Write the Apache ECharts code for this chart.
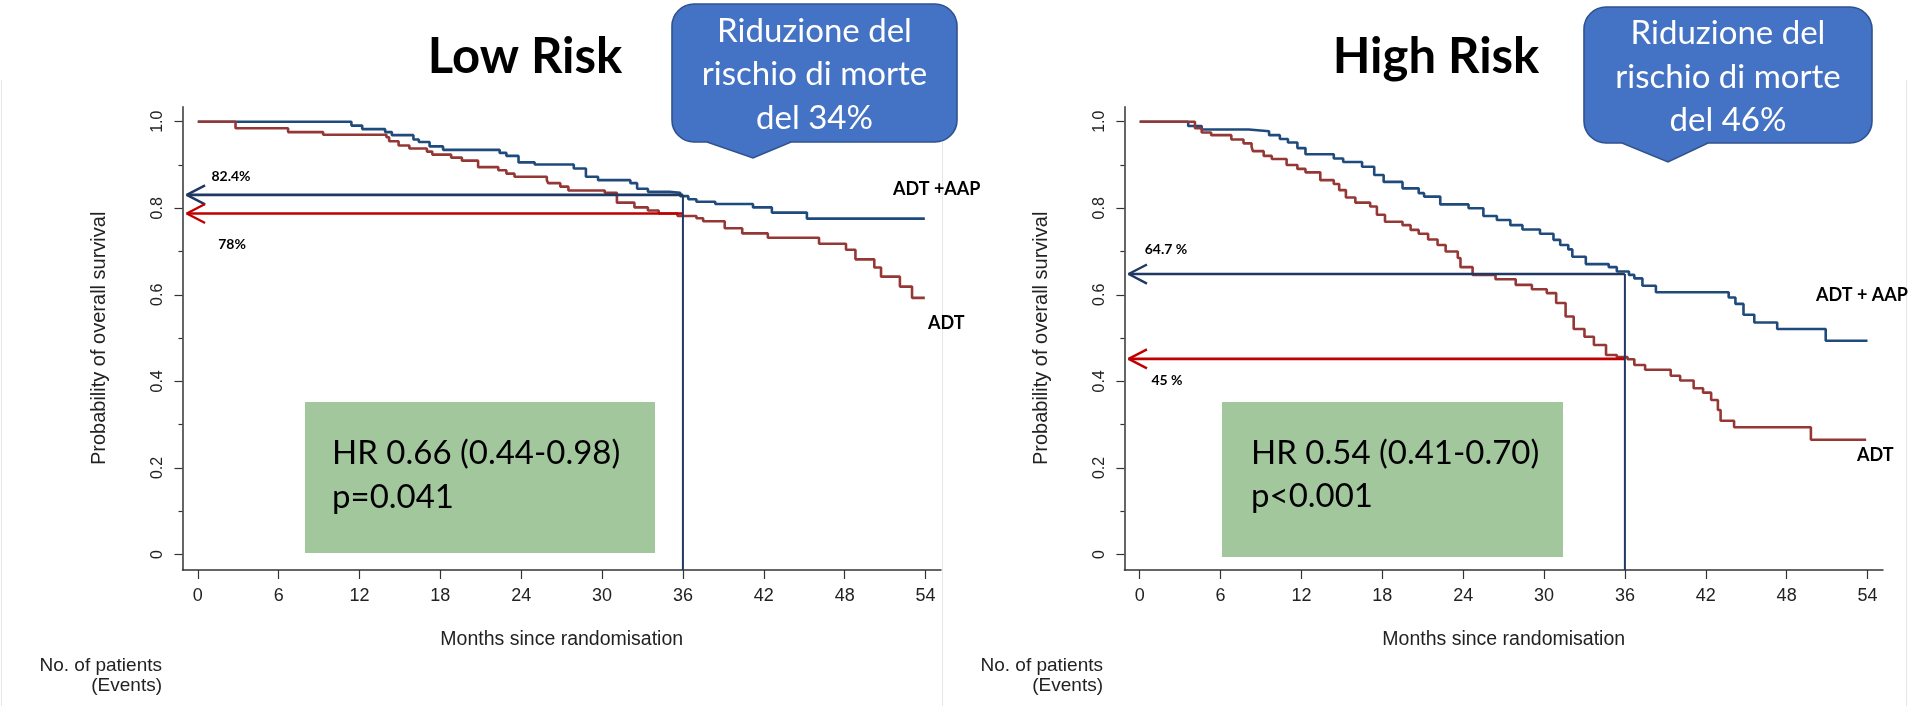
<!DOCTYPE html>
<html><head><meta charset="utf-8">
<script src="https://cdn.jsdelivr.net/npm/echarts@6/dist/echarts.min.js"></script>
<style>html,body{margin:0;padding:0;background:#fff}#c{width:1908px;height:706px}</style>
</head><body><div id="c"></div>
<script>
// ---------- data ----------
const monthTicks = [0, 6, 12, 18, 24, 30, 36, 42, 48, 54];
const survTicks = [0, 0.2, 0.4, 0.6, 0.8, 1.0];
const survMinorTicks = [0.1, 0.3, 0.5, 0.7, 0.9];

// [month of step, survival after step]
const lowAAP = [[0,1.0],[11.4,0.991],[12.2,0.983],[13.9,0.976],[14.4,0.969],[16.0,0.959],[16.4,0.953],[17.2,0.943],[18.2,0.935],[22.4,0.928],[22.9,0.921],[23.8,0.906],[25.0,0.901],[27.9,0.892],[28.8,0.873],[29.7,0.865],[32.1,0.858],[32.6,0.845],[33.4,0.838],[35.0,0.836],[35.8,0.828],[36.4,0.821],[37.0,0.815],[38.4,0.810],[41.2,0.802],[42.6,0.790],[45.2,0.776],[53.95,0.776]];
const lowADT = [[0,1.0],[2.8,0.985],[6.7,0.976],[9.3,0.970],[14.0,0.964],[14.2,0.955],[14.9,0.945],[15.7,0.938],[17.0,0.931],[17.4,0.924],[18.8,0.917],[19.6,0.910],[20.8,0.895],[22.3,0.888],[22.9,0.880],[23.5,0.873],[25.9,0.865],[26.0,0.858],[26.9,0.850],[27.5,0.841],[30.2,0.836],[31.1,0.813],[32.4,0.802],[33.4,0.795],[34.2,0.788],[35.6,0.782],[37.0,0.777],[37.5,0.770],[39.1,0.754],[40.4,0.742],[42.3,0.732],[46.1,0.718],[48.1,0.704],[48.8,0.682],[50.2,0.663],[50.7,0.642],[52.1,0.619],[53.0,0.593],[53.95,0.593]];
const highAAP = [[0,1.0],[3.6,0.990],[4.6,0.982],[8.1,0.978],[9.6,0.969],[10.4,0.960],[11.0,0.952],[11.7,0.939],[12.3,0.925],[14.4,0.915],[15.1,0.907],[16.5,0.896],[17.4,0.877],[18.1,0.861],[19.5,0.846],[20.7,0.835],[21.1,0.827],[22.3,0.809],[24.4,0.800],[25.5,0.782],[26.5,0.773],[27.5,0.761],[28.4,0.751],[29.7,0.741],[30.7,0.727],[31.2,0.715],[31.8,0.705],[32.1,0.688],[33.1,0.671],[34.8,0.664],[35.4,0.654],[36.3,0.646],[36.7,0.638],[37.3,0.621],[38.3,0.606],[43.7,0.594],[44.2,0.579],[44.8,0.554],[45.6,0.536],[47.3,0.521],[50.9,0.494],[54.0,0.494]];
const highADT = [[0,1.0],[4.1,0.985],[4.6,0.975],[5.3,0.969],[6.8,0.959],[7.7,0.950],[8.3,0.942],[8.4,0.932],[9.2,0.921],[9.8,0.914],[10.9,0.900],[11.7,0.891],[12.3,0.883],[13.4,0.865],[14.4,0.856],[14.8,0.842],[15.3,0.825],[16.0,0.813],[17.1,0.804],[17.6,0.785],[18.2,0.769],[19.5,0.761],[20.1,0.750],[20.7,0.741],[21.4,0.728],[22.1,0.715],[22.7,0.700],[23.6,0.685],[23.8,0.664],[24.7,0.646],[26.4,0.636],[27.9,0.623],[29.1,0.613],[30.2,0.604],[30.9,0.581],[31.6,0.550],[32.2,0.521],[33.0,0.503],[33.7,0.484],[34.6,0.461],[35.4,0.456],[36.2,0.451],[36.7,0.438],[37.5,0.427],[39.4,0.413],[40.1,0.402],[41.1,0.384],[41.8,0.374],[42.4,0.357],[42.9,0.334],[43.1,0.309],[44.1,0.294],[49.8,0.265],[53.9,0.265]];

const landmarkMonth = 36;
const arrowTipMonth = -0.82;
const lowArrowValues = [0.831, 0.788];   // ADT+AAP, ADT
const highArrowValues = [0.648, 0.452];
const arrowLabelsLow = ['82.4%', '78%'];
const arrowLabelsHigh = ['64.7 %', '45 %'];
const titles = ['Low Risk', 'High Risk'];
const bubbleLow = ['Riduzione del', 'rischio di morte', 'del 34%'];
const bubbleHigh = ['Riduzione del', 'rischio di morte', 'del 46%'];
const hrLow = ['HR 0.66 (0.44-0.98)', 'p=0.041'];
const hrHigh = ['HR 0.54 (0.41-0.70)', 'p<0.001'];
const groupLabels = ['ADT +AAP', 'ADT', 'ADT + AAP', 'ADT'];
const xName = 'Months since randomisation';
const yName = 'Probability of overall survival';
const riskLabel = ['No. of patients', '(Events)'];

// ---------- styles ----------
const AX = "'Liberation Sans', Arial, sans-serif";
const CAL = "Lato, 'Open Sans', sans-serif";
const BLUE = '#1F4A7C', RED = '#953735', NAVY = '#203864', ARED = '#C00000';
const Y_MIN = -0.0358, Y_MAX = 1.0347, X_MIN = -1.135, X_MAX = 55.15;

function xAx(gi) {
  return {
    type: 'value', gridIndex: gi, min: X_MIN, max: X_MAX, position: 'bottom',
    axisLine: { show: true, onZero: false, lineStyle: { color: '#333', width: 1.5 } },
    axisTick: { show: true, length: 9, customValues: monthTicks, lineStyle: { color: '#333', width: 1.2 } },
    axisLabel: { show: true, customValues: monthTicks, fontSize: 18, fontFamily: AX, color: '#222', margin: 17 },
    splitLine: { show: false },
    name: xName, nameLocation: 'middle', nameGap: 60,
    nameTextStyle: { fontSize: 19.5, fontFamily: AX, color: '#222' }
  };
}
function yAx(gi) {
  return {
    type: 'value', gridIndex: gi, min: Y_MIN, max: Y_MAX, position: 'left',
    axisLine: { show: true, onZero: false, lineStyle: { color: '#333', width: 1.5 } },
    axisTick: { show: true, length: 8, customValues: survTicks, lineStyle: { color: '#333', width: 1.2 } },
    axisLabel: { show: true, customValues: survTicks, rotate: 90, fontSize: 16, fontFamily: AX, color: '#222', margin: 17,
      formatter: v => (Math.abs(v) < 1e-9 ? '0' : v.toFixed(1)) },
    splitLine: { show: false },
    name: yName, nameLocation: 'middle', nameGap: 73,
    nameTextStyle: { fontSize: 20, fontFamily: AX, color: '#222' }
  };
}
function yMinor(gi) {
  return {
    type: 'value', gridIndex: gi, min: Y_MIN, max: Y_MAX, position: 'left', offset: 0,
    axisLine: { show: false, onZero: false },
    axisTick: { show: true, length: 4, customValues: survMinorTicks, lineStyle: { color: '#333', width: 1.2 } },
    axisLabel: { show: false }, splitLine: { show: false }
  };
}
function km(data, color, gi) {
  return { type: 'line', xAxisIndex: gi, yAxisIndex: gi * 2, data: data, step: 'end',
    showSymbol: false, symbol: 'none', lineStyle: { color: color, width: 2.6 }, itemStyle: { color: color },
    silent: true, z: 3 };
}
function seg(pts, color, width, gi, z) {
  return { type: 'line', xAxisIndex: gi, yAxisIndex: gi * 2, data: pts, showSymbol: false, symbol: 'none',
    lineStyle: { color: color, width: width }, itemStyle: { color: color }, silent: true, z: z || 4 };
}
function arrow(gi, v, color) {
  const dx = 1.36, dy = 0.022;
  return [
    seg([[landmarkMonth, v], [arrowTipMonth, v]], color, 2.6, gi, 5),
    seg([[arrowTipMonth + dx, v + dy], [arrowTipMonth, v], [arrowTipMonth + dx, v - dy]], color, 2.4, gi, 5)
  ];
}

const series = [
  km(lowAAP, BLUE, 0), km(lowADT, RED, 0),
  km(highAAP, BLUE, 1), km(highADT, RED, 1),
  ...arrow(0, lowArrowValues[0], NAVY), ...arrow(0, lowArrowValues[1], ARED),
  ...arrow(1, highArrowValues[0], NAVY), ...arrow(1, highArrowValues[1], ARED),
  seg([[landmarkMonth, lowArrowValues[0]], [landmarkMonth, Y_MIN]], NAVY, 2, 0, 5),
  seg([[landmarkMonth, highArrowValues[0]], [landmarkMonth, Y_MIN]], NAVY, 2, 1, 5)
];

function txt(text, x, y, font, fill, align, z) {
  return { type: 'text', x: x, y: y, z: z || 10, silent: true,
    style: { text: text, font: font, fill: fill || '#000', align: align || 'center', verticalAlign: 'middle' } };
}
function bubble(x0, y0, x1, y1, bx0, tipX, bx1, tipY, lines, cy) {
  const fill = '#4472C4', stroke = '#2F528F';
  const els = [
    { type: 'rect', z: 20, silent: true, shape: { x: x0, y: y0, width: x1 - x0, height: y1 - y0, r: 22 },
      style: { fill: fill, stroke: stroke, lineWidth: 1.6 } },
    { type: 'polygon', z: 21, silent: true,
      shape: { points: [[bx0, y1], [bx0, y1 - 4], [bx1, y1 - 4], [bx1, y1], [tipX, tipY]] },
      style: { fill: fill } },
    { type: 'polyline', z: 22, silent: true, shape: { points: [[bx0 - 1, y1], [tipX, tipY], [bx1 + 1, y1]] },
      style: { stroke: stroke, lineWidth: 1.6, fill: null } }
  ];
  const cx = (x0 + x1) / 2;
  lines.forEach((l, i) => els.push(txt(l, cx, cy[i], '33px ' + CAL, '#fff', 'center', 23)));
  return els;
}

const graphics = [
  // faint picture borders
  { type: 'line', z: 1, silent: true, shape: { x1: 1.5, y1: 80, x2: 1.5, y2: 706 }, style: { stroke: '#e4e7ea', lineWidth: 1 } },
  { type: 'line', z: 1, silent: true, shape: { x1: 942.5, y1: 142, x2: 942.5, y2: 706 }, style: { stroke: '#e4e7ea', lineWidth: 1 } },
  { type: 'line', z: 1, silent: true, shape: { x1: 1906.5, y1: 80, x2: 1906.5, y2: 706 }, style: { stroke: '#e4e7ea', lineWidth: 1 } },
  // titles
  txt(titles[0], 525, 57, 'bold 49px ' + CAL, '#000'),
  txt(titles[1], 1436, 57, 'bold 49px ' + CAL, '#000'),
  // bubbles
  ...bubble(672, 4, 957, 142, 708, 753, 790, 158, bubbleLow, [31, 74, 118]),
  ...bubble(1584, 7, 1872, 143, 1623, 1668, 1707, 162, bubbleHigh, [33, 77, 120]),
  // HR boxes
  { type: 'rect', z: 2, silent: true, shape: { x: 305, y: 402, width: 350, height: 151 }, style: { fill: '#A3C79D' } },
  { type: 'rect', z: 2, silent: true, shape: { x: 1222, y: 402, width: 341, height: 155 }, style: { fill: '#A3C79D' } },
  txt(hrLow[0], 332, 453, '33px ' + CAL, '#000', 'left'),
  txt(hrLow[1], 332, 497, '33px ' + CAL, '#000', 'left'),
  txt(hrHigh[0], 1251, 453, '33px ' + CAL, '#000', 'left'),
  txt(hrHigh[1], 1251, 496, '33px ' + CAL, '#000', 'left'),
  // arrow labels
  txt(arrowLabelsLow[0], 231, 176, 'bold 14px ' + CAL, '#000'),
  txt(arrowLabelsLow[1], 232, 244, 'bold 14px ' + CAL, '#000'),
  txt(arrowLabelsHigh[0], 1166, 249, 'bold 14px ' + CAL, '#000'),
  txt(arrowLabelsHigh[1], 1167, 380, 'bold 14px ' + CAL, '#000'),
  // group labels
  txt(groupLabels[0], 893, 189, 'bold 18px ' + CAL, '#000', 'left'),
  txt(groupLabels[1], 928, 323, 'bold 18px ' + CAL, '#000', 'left'),
  txt(groupLabels[2], 1816, 295, 'bold 18px ' + CAL, '#000', 'left'),
  txt(groupLabels[3], 1857, 455, 'bold 18px ' + CAL, '#000', 'left'),
  // number at risk heading
  txt(riskLabel[0], 162, 666, '19px ' + AX, '#222', 'right'),
  txt(riskLabel[1], 162, 686, '19px ' + AX, '#222', 'right'),
  txt(riskLabel[0], 1103, 666, '19px ' + AX, '#222', 'right'),
  txt(riskLabel[1], 1103, 686, '19px ' + AX, '#222', 'right')
];

const option = {
  animation: false,
  backgroundColor: '#fff',
  grid: [
    { left: 182.5, top: 106.7, width: 758.5, height: 463.3, containLabel: false },
    { left: 1124.4, top: 106.7, width: 758.6, height: 463.3, containLabel: false }
  ],
  xAxis: [xAx(0), xAx(1)],
  yAxis: [yAx(0), yMinor(0), yAx(1), yMinor(1)],
  series: series,
  graphic: { elements: graphics }
};
const chart = echarts.init(document.getElementById('c'), null, { renderer: 'canvas' });
chart.setOption(option);
</script></body></html>
